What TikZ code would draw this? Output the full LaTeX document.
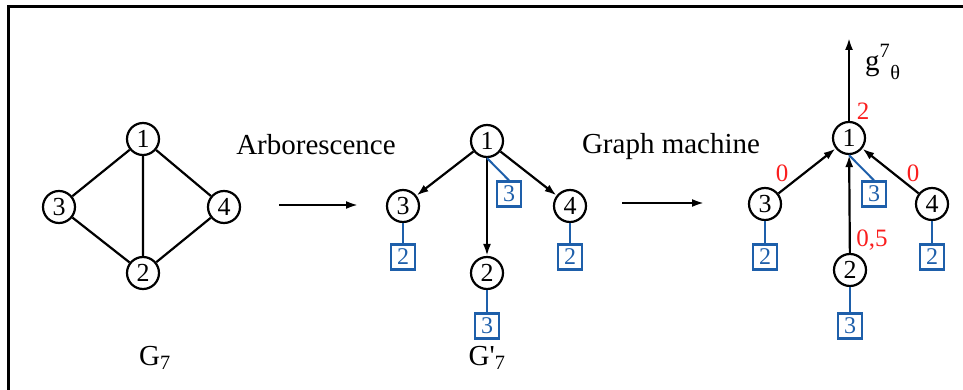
\documentclass[tikz,border=0pt]{standalone}
\usepackage{fontspec}
\setmainfont{Liberation Serif}
\usetikzlibrary{arrows.meta}
\definecolor{boxblue}{RGB}{30,95,170}
\definecolor{wred}{RGB}{250,30,30}
\tikzset{
  vert/.style={circle, draw, line width=2.2pt, minimum size=32pt, inner sep=0pt,
    font=\fontsize{26}{26}\selectfont},
  tag/.style={draw=boxblue, text=boxblue, line width=2.2pt, minimum width=24pt,
    minimum height=25pt, inner sep=0pt, font=\fontsize{24}{24}\selectfont},
  tagline/.style={draw=boxblue, line width=2pt},
  edge/.style={line width=2.2pt},
  dir/.style={line width=2.2pt, -{Latex[length=12pt,width=8pt]}},
  caption/.style={font=\fontsize{29}{34}\selectfont},
  weight/.style={text=wred, font=\fontsize{25}{25}\selectfont},
}
\begin{document}
\begin{tikzpicture}[x=1pt,y=-1pt]
\useasboundingbox (0,0) rectangle (963,390);
% frame
\draw[line width=3pt] (8,392) -- (8,7) -- (965,7);

% undirected graph G_7
\node[vert] (g1) at (143,139) {1};
\node[vert] (g3) at (59,207) {3};
\node[vert] (g4) at (224,207) {4};
\node[vert] (g2) at (143,273) {2};
\draw[edge] (g1) -- (g3) (g1) -- (g4) (g1) -- (g2) (g3) -- (g2) (g4) -- (g2);
\node[caption] (lg) at (155,358) {G\textsubscript{7}};

% first transformation
\coordinate (a1s) at (279,205);
\coordinate (a1e) at (358,205);
\draw[dir] (a1s) -- (a1e);
\node[caption] (arb) at (316,145) {Arborescence};

% arborescence G'_7
\node[vert] (t1) at (487,141) {1};
\node[vert] (t3) at (403,206) {3};
\node[vert] (t4) at (570,206) {4};
\node[vert] (t2) at (487,273) {2};
\node[tag] (tb1) at (509,194) {3};
\node[tag] (tb3) at (403,257) {2};
\node[tag] (tb4) at (570,257) {2};
\node[tag] (tb2) at (487,326) {3};
\draw[dir] (t1) -- (t3);
\draw[dir] (t1) -- (t4);
\draw[dir] (t1) -- (t2);
\draw[tagline] (t1.south) -- (tb1.north);
\draw[tagline] (t3.south) -- (tb3.north);
\draw[tagline] (t4.south) -- (tb4.north);
\draw[tagline] (t2.south) -- (tb2.north);
\node[caption] (lt) at (487,358) {G\textquotesingle\textsubscript{7}};

% second transformation
\coordinate (a2s) at (622,203);
\coordinate (a2e) at (704,203);
\draw[dir] (a2s) -- (a2e);
\node[caption] (gm) at (671,147) {Graph machine};

% graph machine
\node[vert] (m1) at (849,138) {1};
\node[vert] (m3) at (765,204) {3};
\node[vert] (m4) at (932,204) {4};
\node[vert] (m2) at (850,270) {2};
\node[tag] (mb1) at (874,194) {3};
\node[tag] (mb3) at (765,257) {2};
\node[tag] (mb4) at (932,257) {2};
\node[tag] (mb2) at (850,326) {3};
\draw[dir] (m3) -- (m1);
\draw[dir] (m4) -- (m1);
\draw[dir] (m2) -- (m1);
\draw[tagline] (m1.south) -- (mb1.north);
\draw[tagline] (m3.south) -- (mb3.north);
\draw[tagline] (m4.south) -- (mb4.north);
\draw[tagline] (m2.south) -- (mb2.north);
\coordinate (out) at (849,38);
\draw[dir] (m1) -- (out);
\node[caption, anchor=west, inner sep=0pt] (gout) at (865,62) {g\raisebox{4pt}{\textsuperscript{7}}\raisebox{-3pt}{\textsubscript{θ}}};
\node[weight] (w1) at (863,111) {2};
\node[weight] (w3) at (782,173) {0};
\node[weight] (w4) at (913,173) {0};
\node[weight] (w2) at (872,240) {0,5};
\end{tikzpicture}
\end{document}
